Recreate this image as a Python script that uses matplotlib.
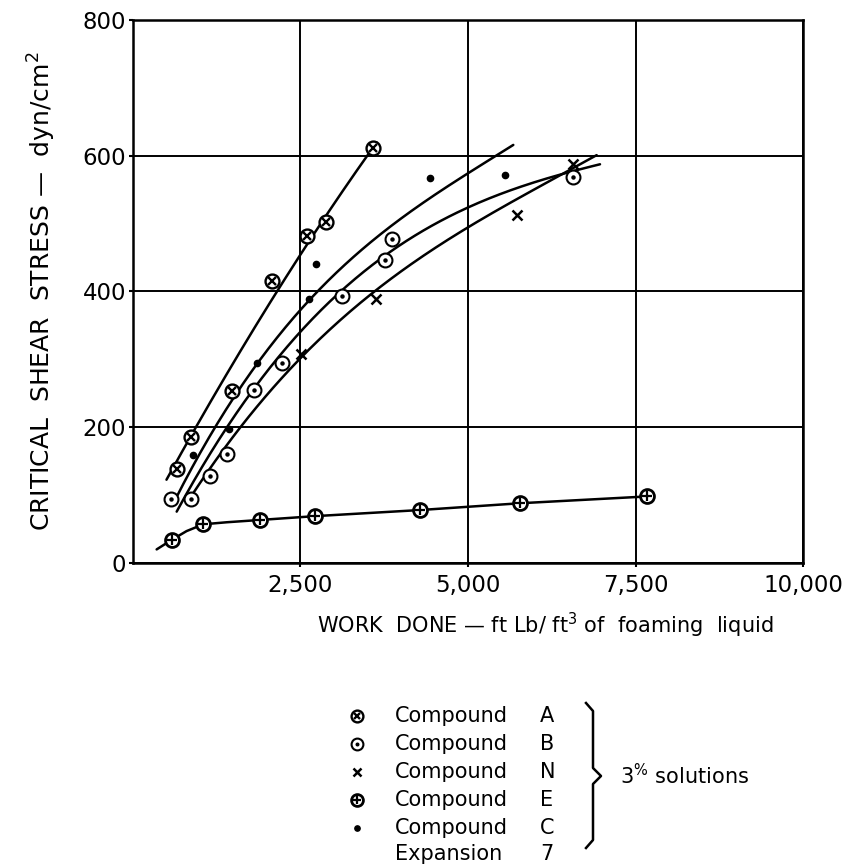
import numpy as np
import matplotlib
matplotlib.use('Agg')
import matplotlib.pyplot as plt

# ---- measured points (work done ft lb/ft3, critical shear stress dyn/cm2)
a_x = [652, 866, 1482, 2070, 2592, 2876, 3587]
a_y = [138, 185, 253, 416, 482, 502, 611]
b_x = [567, 866, 1149, 1398, 1806, 2229, 3124, 3761, 3860, 6572]
b_y = [94, 94, 128, 160, 255, 294, 394, 446, 477, 569]
n_x = [2502, 3622, 5725, 6563]
n_y = [308, 389, 513, 588]
e_x = [577, 1050, 1896, 2716, 4284, 5776, 7667]
e_y = [34, 57, 63, 69, 78, 88, 98]
c_x = [900, 1438, 1846, 2632, 2731, 4433, 5552]
c_y = [159, 197, 295, 389, 441, 567, 572]

# ---- hand drawn fitted curves
a_fit_x = [500, 950, 1846, 2159, 2800, 3488, 3637]
a_fit_y = [123, 200, 357, 400, 496, 600, 620]
c_fit_x = [627, 1197, 2244, 3000, 3985, 5000, 5676]
c_fit_y = [90, 200, 343, 420, 509, 575, 615]
b_fit_x = [652, 1438, 2493, 3985, 5004, 6075, 6970]
b_fit_y = [78, 200, 343, 470, 522, 563, 588]
n_fit_x = [874, 1622, 2891, 3985, 5004, 6572, 6920]
n_fit_y = [100, 200, 343, 426, 495, 583, 600]
e_fit_x = [353, 577, 800, 1050, 1400, 2716, 4284, 5776, 7667]
e_fit_y = [20, 34, 47, 57, 60, 69, 78, 88, 98]

x_ticks = [2500, 5000, 7500, 10000]
x_ticklabels = ['2,500', '5,000', '7,500', '10,000']
y_ticks = [0, 200, 400, 600, 800]

legend_words = ['Compound', 'Compound', 'Compound', 'Compound', 'Compound']
legend_keys = ['A', 'B', 'N', 'E', 'C']

plt.rcParams['font.family'] = 'DejaVu Sans'
K = 'black'


def draw_marker(ax, xs, ys, kind, scale=1.0):
    if kind == 'A':
        ax.plot(xs, ys, 'o', ms=10 * scale, mfc='white', mec=K, mew=1.7, ls='none', zorder=5)
        ax.plot(xs, ys, 'x', ms=5.5 * scale, mec=K, mew=1.7, ls='none', zorder=6)
    elif kind == 'B':
        ax.plot(xs, ys, 'o', ms=10 * scale, mfc='white', mec=K, mew=1.5, ls='none', zorder=5)
        ax.plot(xs, ys, 'o', ms=2.2 * scale, mfc=K, mec=K, ls='none', zorder=6)
    elif kind == 'N':
        ax.plot(xs, ys, 'x', ms=7 * scale, mec=K, mew=1.8, ls='none', zorder=5)
    elif kind == 'E':
        ax.plot(xs, ys, 'o', ms=10 * scale, mfc='white', mec=K, mew=2.0, ls='none', zorder=5)
        ax.plot(xs, ys, '+', ms=7 * scale, mec=K, mew=1.6, ls='none', zorder=6)
    elif kind == 'C':
        ax.plot(xs, ys, 'o', ms=4.5 * scale, mfc=K, mec=K, ls='none', zorder=5)


def smooth(xs, ys, deg):
    # smooth the hand-read curve nodes with a low order fit
    c = np.polyfit(xs, ys, deg)
    xx = np.linspace(xs[0], xs[-1], 200)
    return xx, np.polyval(c, xx)


fig = plt.figure(figsize=(8.46, 8.64), dpi=100)
ax = fig.add_axes([0.1572, 0.3484, 0.792, 0.6285])

for fx, fy, deg in [(a_fit_x, a_fit_y, 2), (c_fit_x, c_fit_y, 3),
                    (b_fit_x, b_fit_y, 3), (n_fit_x, n_fit_y, 3)]:
    xx, yy = smooth(fx, fy, deg)
    ax.plot(xx, yy, color=K, lw=1.8, solid_capstyle='round', zorder=4)
ax.plot(e_fit_x, e_fit_y, color=K, lw=1.8, solid_capstyle='round', zorder=4)

draw_marker(ax, a_x, a_y, 'A')
draw_marker(ax, b_x, b_y, 'B')
draw_marker(ax, n_x, n_y, 'N')
draw_marker(ax, e_x, e_y, 'E')
draw_marker(ax, c_x, c_y, 'C')

ax.set_xlim(0, 10000)
ax.set_ylim(0, 800)
ax.set_xticks(x_ticks)
ax.set_xticklabels(x_ticklabels)
ax.set_yticks(y_ticks)
ax.grid(True, color=K, lw=1.4)
for s in ax.spines.values():
    s.set_linewidth(1.8)
ax.tick_params(axis='both', length=3, width=1.5, labelsize=16.5, pad=2)
ax.tick_params(axis='x', pad=5)

ax.set_ylabel('CRITICAL  SHEAR  STRESS —  dyn/cm$^2$', fontsize=18)
ax.yaxis.set_label_coords(-0.112, 0.5)
fig.text(545 / 846, 1 - 625 / 864, 'WORK  DONE — ft Lb/ ft$^3$ of  foaming  liquid',
         fontsize=15, ha='center', va='center')

# ---- legend block underneath (pixel coordinates)
lax = fig.add_axes([0, 0, 1, 1], zorder=-1)
lax.set_xlim(0, 846)
lax.set_ylim(864, 0)
lax.axis('off')

row_y = [716, 744, 772, 800, 828, 854]
for ry, key, word in zip(row_y, legend_keys, legend_words):
    draw_marker(lax, [357], [ry], key, scale=0.85)
    lax.text(395, ry, word, fontsize=15, va='center', ha='left')
    lax.text(540, ry, key, fontsize=15, va='center', ha='left')
lax.text(395, row_y[-1], 'Expansion', fontsize=15, va='center', ha='left')
lax.text(540, row_y[-1], '7', fontsize=15, va='center', ha='left')

# brace
lax.plot([586, 593, 593, 601, 593, 593, 586],
         [703, 711, 768, 776, 784, 840, 848], color=K, lw=1.8)
lax.text(620, 776, '3$^{\\%}$ solutions', fontsize=15, va='center', ha='left')

fig.savefig('out.png', dpi=100)
